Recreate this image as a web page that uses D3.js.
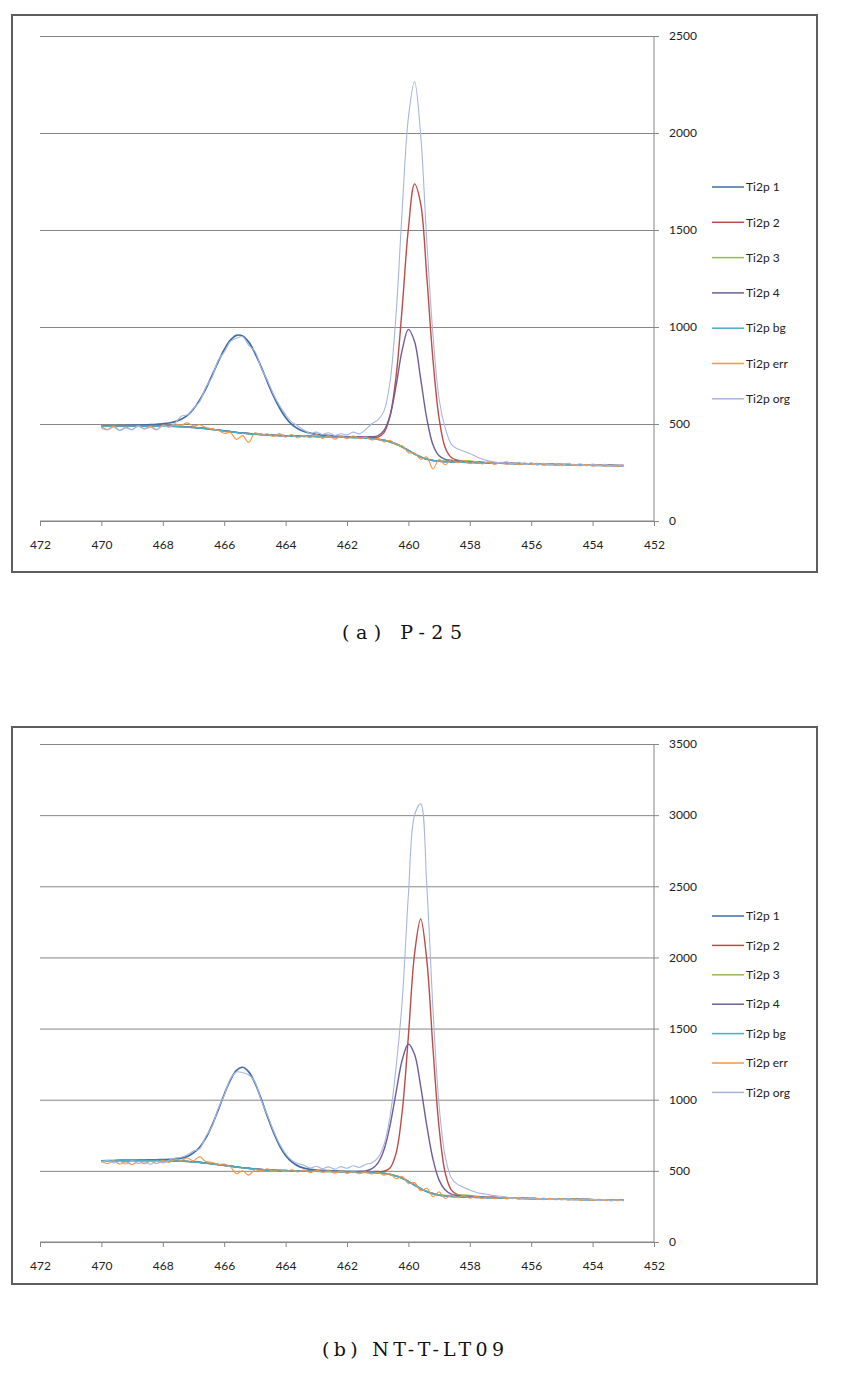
<!DOCTYPE html>
<html><head><meta charset="utf-8">
<script src="https://cdn.jsdelivr.net/npm/d3@7"></script>
<style>body{margin:0;background:#fff;} svg{display:block;}</style>
</head><body>
<svg id="c" width="843" height="1373"></svg>
<script>
// ---------- DATA ----------
const energy = [470.0,469.8,469.6,469.4,469.2,469.0,468.8,468.6,468.4,468.2,
 468.0,467.8,467.6,467.4,467.2,467.0,466.8,466.6,466.4,466.2,
 466.0,465.8,465.6,465.4,465.2,465.0,464.8,464.6,464.4,464.2,
 464.0,463.8,463.6,463.4,463.2,463.0,462.8,462.6,462.4,462.2,
 462.0,461.8,461.6,461.4,461.2,461.0,460.8,460.6,460.4,460.2,
 460.0,459.8,459.6,459.4,459.2,459.0,458.8,458.6,458.4,458.2,
 458.0,457.8,457.6,457.4,457.2,457.0,456.8,456.6,456.4,456.2,
 456.0,455.8,455.6,455.4,455.2,455.0,454.8,454.6,454.4,454.2,
 454.0,453.8,453.6,453.4,453.2,453.0];
const xTicks = [472,470,468,466,464,462,460,458,456,454,452];
const yTicksA = [0,500,1000,1500,2000,2500];
const yTicksB = [0,500,1000,1500,2000,2500,3000,3500];
const seriesNames = ["Ti2p 1","Ti2p 2","Ti2p 3","Ti2p 4","Ti2p bg","Ti2p err","Ti2p org"];
const captionA = "(a) P-25";
const captionB = "(b) NT-T-LT09";

// (a) P-25
const ti2p1A = [489,490,490,492,492,493,494,495,497,498,
 501,505,512,524,544,577,623,681,749,819,
 883,932,957,954,922,866,796,720,646,584,
 534,498,475,461,453,447,443,441,438,436,
 434,432,431,429,426,422,417,408,397,382,
 364,345,330,319,312,308,306,305,304,303,
 302,301,300,299,298,298,297,296,295,295,
 294,293,292,292,291,290,290,289,288,288,
 287,287,286,286,285,285];
const ti2p2A = [489,490,490,491,491,491,491,491,491,490,
 490,489,488,487,485,483,480,477,473,469,
 465,461,457,454,451,448,446,444,442,441,
 440,439,438,437,437,436,435,435,435,434,
 433,433,432,431,431,431,454,539,747,1104,
 1508,1738,1635,1258,832,529,378,327,314,309,
 306,304,302,300,299,299,298,297,296,296,
 295,294,293,293,292,291,291,290,289,289,
 288,288,287,287,286,286];
const ti2p3A = [488,489,489,490,490,490,490,490,490,489,
 489,488,487,486,484,482,479,476,472,468,
 464,460,456,453,450,447,445,443,441,440,
 439,438,437,436,436,435,434,434,433,432,
 431,430,429,427,425,421,416,408,397,382,
 364,345,330,319,312,308,308,309,311,311,
 309,306,303,300,298,298,297,296,295,295,
 294,293,292,292,291,290,290,289,288,288,
 287,287,286,286,285,285];
const ti2p4A = [489,490,490,491,491,491,491,491,491,490,
 490,489,488,487,485,483,480,477,473,469,
 465,461,457,454,451,448,446,444,442,441,
 440,439,438,437,437,436,435,435,435,434,
 433,433,433,433,434,439,466,543,698,883,
 988,925,733,528,393,336,318,312,309,307,
 305,303,302,300,299,299,298,297,296,296,
 295,294,293,293,292,291,291,290,289,289,
 288,288,287,287,286,286];
const bgA = [488,489,489,490,490,490,490,490,490,489,
 489,488,487,486,484,482,479,476,472,468,
 464,460,456,453,450,447,445,443,441,440,
 439,438,437,436,436,435,434,434,433,432,
 431,430,429,427,425,421,416,408,397,382,
 364,345,330,319,312,308,306,305,304,303,
 302,301,300,299,298,298,297,296,295,295,
 294,293,292,292,291,290,290,289,288,288,
 287,287,286,286,285,285];
const errA = [486,472,490,468,484,470,492,476,488,472,
 494,486,500,494,506,490,496,482,476,468,
 452,456,420,440,405,455,442,450,436,451,
 432,446,428,442,430,446,426,440,422,437,
 424,438,425,432,418,426,408,416,392,388,
 352,350,318,330,268,318,290,316,300,312,
 296,308,294,305,292,302,293,300,290,299,
 291,297,289,295,288,294,286,292,285,291,
 284,290,283,289,282,287];
const orgA = [478,470,484,466,480,472,488,474,482,470,
 490,484,505,540,548,582,615,690,740,826,
 870,925,942,950,905,875,790,728,655,596,
 548,510,490,468,452,458,446,455,441,450,
 444,458,449,470,500,520,565,715,1070,1610,
 2080,2265,1990,1440,960,630,480,395,372,360,
 348,333,320,310,304,301,305,293,302,290,
 300,288,298,290,296,285,298,287,295,284,
 293,286,292,283,289,282];

// (b) NT-T-LT09
const ti2p1B = [571,572,572,573,574,574,575,576,577,578,
 579,580,583,589,602,626,666,730,818,925,
 1037,1138,1206,1228,1196,1118,1008,887,773,678,
 608,563,535,519,511,506,503,501,499,497,
 495,494,492,491,489,487,482,475,464,448,
 426,400,375,355,340,330,324,320,318,316,
 315,314,313,312,311,310,309,308,307,306,
 305,304,303,303,302,301,300,300,299,298,
 297,297,296,295,295,294];
const ti2p2B = [571,572,572,573,573,573,573,573,573,573,
 573,572,571,569,567,564,560,555,550,545,
 539,534,528,523,518,514,510,507,505,503,
 502,501,500,499,499,498,497,497,496,495,
 494,494,494,494,494,495,497,520,625,921,
 1448,2024,2270,1979,1362,803,485,365,333,325,
 321,319,317,315,314,312,310,309,308,307,
 306,305,304,304,303,302,301,301,300,299,
 298,298,297,296,296,295];
const ti2p3B = [570,571,571,572,572,572,572,572,572,572,
 572,571,570,568,566,563,559,554,549,544,
 538,533,527,522,517,513,509,506,504,502,
 501,500,499,498,498,497,496,495,494,493,
 492,491,490,489,488,486,482,475,464,448,
 426,400,375,355,340,330,327,327,330,330,
 327,322,317,314,311,310,309,308,307,306,
 305,304,303,303,302,301,300,300,299,298,
 297,297,296,295,295,294];
const ti2p4B = [571,572,572,573,573,573,573,573,573,573,
 573,572,571,569,567,564,560,555,550,545,
 539,534,528,523,518,514,510,507,505,503,
 502,501,500,499,499,498,498,497,497,496,
 496,496,497,500,514,553,645,817,1054,1281,
 1392,1319,1093,816,582,435,365,336,326,322,
 320,318,316,315,313,312,310,309,308,307,
 306,305,304,304,303,302,301,301,300,299,
 298,298,297,296,296,295];
const bgB = [570,571,571,572,572,572,572,572,572,572,
 572,571,570,568,566,563,559,554,549,544,
 538,533,527,522,517,513,509,506,504,502,
 501,500,499,498,498,497,496,495,494,493,
 492,491,490,489,488,486,482,475,464,448,
 426,400,375,355,340,330,324,320,318,316,
 315,314,313,312,311,310,309,308,307,306,
 305,304,303,303,302,301,300,300,299,298,
 297,297,296,295,295,294];
const errB = [566,552,570,548,562,545,566,550,568,552,
 572,560,582,574,590,570,600,565,560,545,
 548,528,480,500,470,508,498,514,497,510,
 494,508,492,505,488,504,489,500,484,498,
 482,495,480,492,478,488,470,480,445,462,
 410,418,360,378,318,352,306,330,312,326,
 308,322,306,318,304,314,303,312,301,310,
 300,308,298,307,297,305,295,304,294,302,
 293,300,292,299,291,297];
const orgB = [560,572,556,566,548,570,552,563,546,568,
 556,574,590,596,612,640,655,742,810,935,
 1030,1145,1195,1190,1175,1125,1000,895,785,690,
 620,575,552,540,520,532,515,528,512,530,
 518,536,524,545,556,590,680,880,1230,1700,
 2440,3000,3080,2500,1640,960,600,450,405,385,
 365,350,340,333,326,322,316,305,313,302,
 310,300,309,298,306,296,305,294,303,293,
 301,291,299,289,297,288];

// ---------- STYLE ----------
const colors = ["#3f6ea6","#be4b48","#98b954","#6f5b9e","#4bacc6","#f79646","#a7b6e0"];
const widths = [1.7,1.4,1.4,1.4,1.6,1.1,1.1];
const gridColor = "#868686";
const textFont = "Lato, 'Liberation Sans', sans-serif";

const svg = d3.select("#c");

function panel(cfg) {
  const g = svg.append("g");
  g.append("rect").attr("x", cfg.box[0]).attr("y", cfg.box[1])
    .attr("width", cfg.box[2]).attr("height", cfg.box[3])
    .attr("fill", "#fff").attr("stroke", "#5e5e5e").attr("stroke-width", 2);

  const x = d3.scaleLinear().domain([472, 452]).range([40, 654]);
  const y = d3.scaleLinear().domain([0, cfg.yMax]).range([cfg.bottom, cfg.top]);

  const grid = g.append("g").attr("transform", `translate(654,0)`)
    .call(d3.axisRight(y).tickValues(cfg.yTicks).tickSize(-614).tickFormat(""));
  grid.select(".domain").remove();
  grid.selectAll("line").attr("stroke", gridColor).attr("stroke-width", 1);

  const xa = g.append("g").attr("transform", `translate(0,${cfg.bottom})`)
    .call(d3.axisBottom(x).tickValues(xTicks).tickSize(5).tickPadding(14).tickFormat(d3.format("d")));
  xa.select(".domain").attr("stroke", gridColor).attr("d", `M40,0H654`);
  xa.selectAll("line").attr("stroke", gridColor);
  xa.selectAll("text").attr("font-family", textFont).attr("font-size", 12).attr("fill", "#222");

  const ya = g.append("g").attr("transform", `translate(654,0)`)
    .call(d3.axisRight(y).tickValues(cfg.yTicks).tickSize(5).tickPadding(10).tickFormat(d3.format("d")));
  ya.select(".domain").attr("stroke", gridColor).attr("d", `M0,${cfg.top}V${cfg.bottom}`);
  ya.selectAll("line").attr("stroke", gridColor);
  ya.selectAll("text").attr("font-family", textFont).attr("font-size", 12).attr("fill", "#222");

  cfg.series.forEach((vals, k) => {
    const line = d3.line()
      .x((d, i) => x(energy[i]))
      .y(d => y(d))
      .curve(d3.curveCatmullRom.alpha(0.5));
    g.append("path").datum(vals)
      .attr("fill", "none").attr("stroke", colors[k])
      .attr("stroke-width", widths[k]).attr("stroke-linejoin", "round")
      .attr("d", line);
  });

  const lg = g.append("g");
  seriesNames.forEach((name, k) => {
    const ly = cfg.legendY0 + k * cfg.legendStep;
    lg.append("line").attr("x1", 712).attr("x2", 744).attr("y1", ly).attr("y2", ly)
      .attr("stroke", colors[k]).attr("stroke-width", 1.5);
    lg.append("text").attr("x", 746).attr("y", ly).attr("dy", "0.35em")
      .attr("font-family", textFont).attr("font-size", 12).attr("fill", "#222").text(name);
  });

  svg.append("text").attr("x", cfg.cap[1]).attr("y", cfg.cap[2])
    .attr("text-anchor", "middle")
    .attr("font-family", "'DejaVu Serif', 'Liberation Serif', serif")
    .attr("font-size", 19).attr("fill", "#111")
    .attr("textLength", cfg.cap[3]).attr("lengthAdjust", "spacing")
    .text(cfg.cap[0]);
}

panel({
  box: [12, 15, 805, 557], top: 36, bottom: 521, yMax: 2500, yTicks: yTicksA,
  legendY0: 187, legendStep: 35.3,
  series: [ti2p1A, ti2p2A, ti2p3A, ti2p4A, bgA, errA, orgA],
  cap: [captionA, 402, 639, 120]
});
panel({
  box: [12, 727, 805, 557], top: 744, bottom: 1242, yMax: 3500, yTicks: yTicksB,
  legendY0: 916, legendStep: 29.4,
  series: [ti2p1B, ti2p2B, ti2p3B, ti2p4B, bgB, errB, orgB],
  cap: [captionB, 413, 1356, 182]
});
</script>
</body></html>
